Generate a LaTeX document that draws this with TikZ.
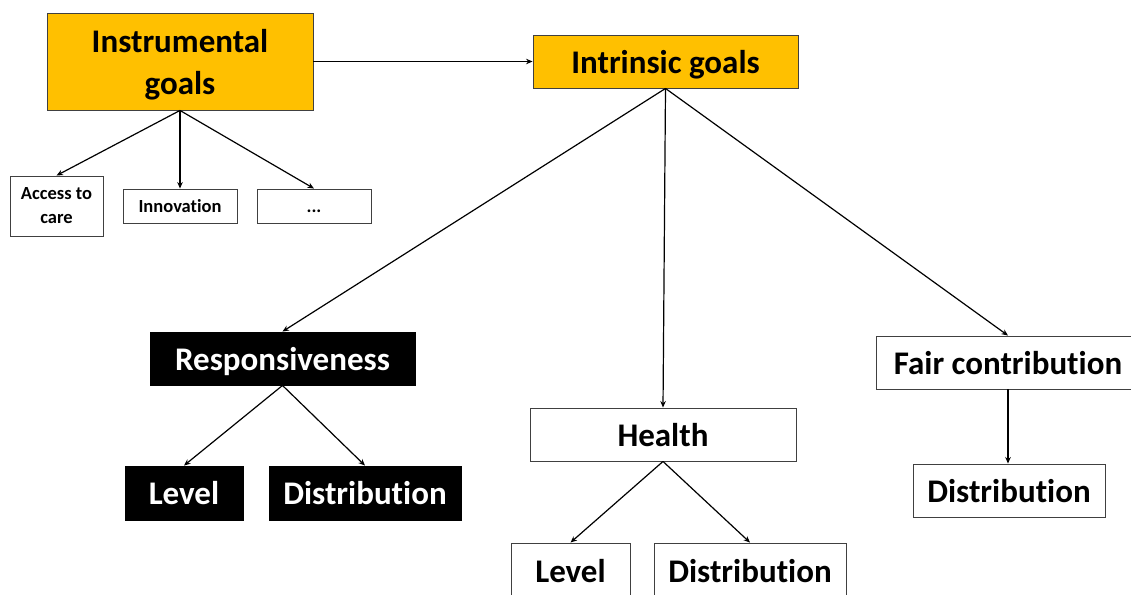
\documentclass[tikz,border=0pt]{standalone}
\usepackage{fontspec}
\setmainfont{Carlito}[Ligatures=NoCommon]
\usetikzlibrary{arrows.meta}
\definecolor{gold}{HTML}{FFC000}
\definecolor{edge}{HTML}{404040}
\tikzset{
  box/.style={draw=edge, line width=0.9pt, inner sep=0pt, align=center, font=\bfseries},
  goal/.style={box, fill=gold, text depth=0pt, font=\fontsize{33}{42}\selectfont\bfseries},
  small/.style={box, fill=white, font=\fontsize{18.5}{24}\selectfont\bfseries},
  mid/.style={box, fill=white, text depth=0pt, font=\fontsize{33}{36}\selectfont\bfseries},
  dark/.style={box, draw=black, fill=black, text=white, text depth=0pt, font=\fontsize{33}{36}\selectfont\bfseries},
  conn/.style={-{Stealth[length=6.5pt,width=5.5pt]}, line width=1.2pt, black},
}
\begin{document}
\begin{tikzpicture}[x=1pt,y=-1pt]
\useasboundingbox (0,0) rectangle (1131,594);
\clip (0,0) rectangle (1131,594);
\node[goal, minimum width=266, minimum height=97] (instr) at (180,61.5) {Instrumental\\goals};
\node[goal, minimum width=265, minimum height=53] (intr) at (665.5,61.5) {Intrinsic goals};
\node[small, minimum width=93, minimum height=60] (access) at (56.5,206) {Access to\\care};
\node[small, minimum width=114, minimum height=34] (innov) at (180,206) {Innovation};
\node[small, minimum width=114, minimum height=34, text height=12pt, text depth=0pt] (dots) at (314,206) {...};
\node[dark, minimum width=265, minimum height=53] (resp) at (282.5,358.5) {Responsiveness};
\node[dark, minimum width=118, minimum height=54] (rlevel) at (184,493) {Level};
\node[dark, minimum width=192, minimum height=54] (rdist) at (365,493) {Distribution};
\node[mid, minimum width=266, minimum height=53] (health) at (663,434.5) {Health};
\node[mid, minimum width=119, minimum height=56] (hlevel) at (570.5,571) {Level};
\node[mid, minimum width=192, minimum height=56] (hdist) at (750,571) {Distribution};
\node[mid, minimum width=264, minimum height=53] (fair) at (1008,362.5) {Fair contribution};
\node[mid, minimum width=192, minimum height=53] (fdist) at (1009,490.5) {Distribution};
\draw[conn] (instr.east) -- (intr.west);
\draw[conn] (instr.south) -- (access.north);
\draw[conn] (instr.south) -- (innov.north);
\draw[conn] (instr.south) -- (dots.north);
\draw[conn] (intr.south) -- (resp.north);
\draw[conn] (intr.south) -- (health.north);
\draw[conn] (intr.south) -- (fair.north);
\draw[conn] (resp.south) -- (rlevel.north);
\draw[conn] (resp.south) -- (rdist.north);
\draw[conn] (health.south) -- (hlevel.north);
\draw[conn] (health.south) -- (hdist.north);
\draw[conn] (fair.south) -- (fdist.north -| fair.south);
\end{tikzpicture}
\end{document}
